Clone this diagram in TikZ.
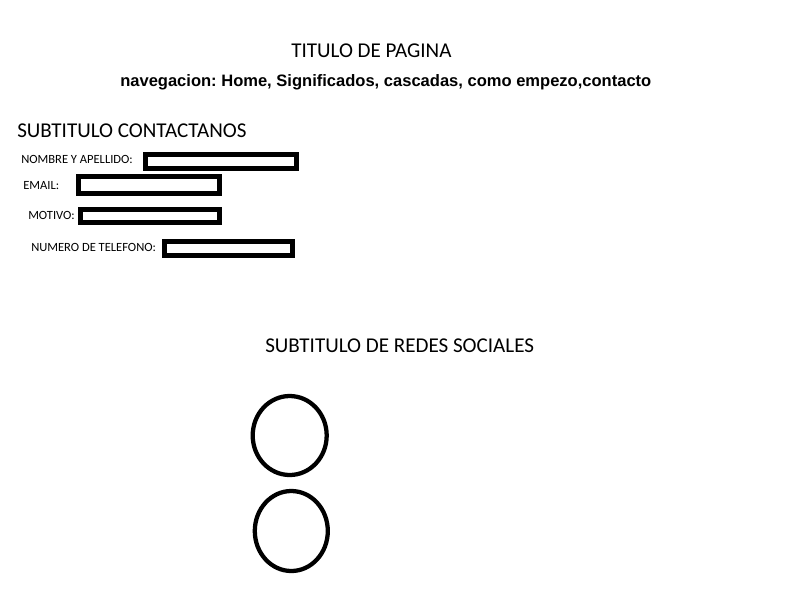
\documentclass[tikz,border=0pt]{standalone}
\usepackage{fontspec}
\setmainfont{Carlito}
\newfontfamily\navfont{Liberation Sans Bold}
\frenchspacing
\begin{document}
\begin{tikzpicture}[x=0.75pt,y=-0.75pt,
  txt/.style={inner sep=0pt,anchor=base west,text=black},
  big/.style={txt,font=\fontsize{15.8}{18}\selectfont},
  small/.style={txt,font=\fontsize{9.4}{11}\selectfont},
  field/.style={draw=black,line width=3.75pt}]
\useasboundingbox[fill=white] (0,0) rectangle (789,612);
\node[big] (title) at (291,57) {TITULO DE PAGINA};
\node[txt,font=\navfont\fontsize{12.4}{14}\selectfont] (nav) at (120,86) {navegacion: Home, Significados, cascadas, como empezo,contacto};
\node[big] (sub1) at (17,137) {SUBTITULO CONTACTANOS};
\node[small] (l1) at (21,163) {NOMBRE Y APELLIDO:};
\node[small] (l2) at (23,189) {EMAIL:};
\node[small] (l3) at (28,219.5) {MOTIVO:};
\node[small] (l4) at (31,251) {NUMERO DE TELEFONO:};
\draw[field] (145.5,154) rectangle (296.5,168.5);
\draw[field] (78.5,176) rectangle (219.5,193);
\draw[field] (80.5,209.5) rectangle (219.5,222);
\draw[field] (164.5,241.5) rectangle (292.5,255);
\node[big] (sub2) at (265,352) {SUBTITULO DE REDES SOCIALES};
\draw[line width=3.2pt] (289.7,435.5) ellipse [x radius=37, y radius=39.5];
\draw[line width=3.2pt] (291.3,531) ellipse [x radius=36.5, y radius=40];
\end{tikzpicture}
\end{document}
